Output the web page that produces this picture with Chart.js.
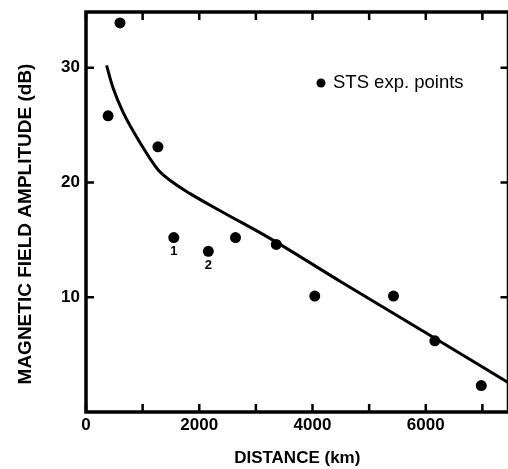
<!DOCTYPE html>
<html>
<head>
<meta charset="utf-8">
<script src="https://cdn.jsdelivr.net/npm/chart.js@4/dist/chart.umd.min.js"></script>
<style>
  html, body { margin: 0; padding: 0; background: #fff; }
  #wrap { width: 508px; height: 469px; overflow: hidden; position: relative; }
  canvas { display: block; }
</style>
</head>
<body>
<div id="wrap"><canvas id="chart" width="514" height="469"></canvas></div>
<script>
// STS experimental points (distance in km, amplitude in dB)
let distance  = [390, 600, 1270, 1550, 2160, 2640, 3360, 4040, 5430, 6160, 6980];
let amplitude = [25.8, 33.9, 23.1, 15.2, 14.0, 15.2, 14.6, 10.1, 10.1, 6.2, 2.3];
let pointNotes = ["", "", "", "1", "2", "", "", "", "", "", ""];

// theoretical curve
let curveDistance  = [363, 480, 656, 950, 1272, 1550, 1830, 2400, 3240, 4500, 6000, 7460];
let curveAmplitude = [30.2, 28.2, 26.1, 23.5, 21.1, 19.95, 19.05, 17.45, 15.15, 11.35, 6.9, 2.55];

// axis ticks
let xTicks = [0, 1000, 2000, 3000, 4000, 5000, 6000, 7000];
let xLabelled = [0, 2000, 4000, 6000];
let yTicks = [10, 20, 30];

let font = "'Liberation Sans', Arial, Helvetica, sans-serif";

function toXY(xs, ys) {
  return xs.map((x, i) => ({x: x, y: ys[i]}));
}

// --- frame, inward ticks, notes, legend, y title ---
let decor = {
  id: "decor",
  beforeDatasetsDraw(chart) {
    let {ctx, chartArea: a, scales} = chart;
    ctx.save();
    ctx.strokeStyle = "#000";
    ctx.lineWidth = 3.5;
    ctx.lineCap = "square";
    ctx.beginPath();
    ctx.moveTo(a.left, a.top); ctx.lineTo(a.right, a.top);
    ctx.lineTo(a.right, a.bottom); ctx.lineTo(a.left, a.bottom);
    ctx.closePath();
    ctx.stroke();

    ctx.lineWidth = 2.5;
    ctx.lineCap = "butt";
    ctx.beginPath();
    xTicks.forEach(v => {
      let px = scales.x.getPixelForValue(v);
      ctx.moveTo(px, a.bottom); ctx.lineTo(px, a.bottom - 8);
      ctx.moveTo(px, a.top); ctx.lineTo(px, a.top + 8);
    });
    yTicks.forEach(v => {
      let py = scales.y.getPixelForValue(v);
      ctx.moveTo(a.left, py); ctx.lineTo(a.left + 8, py);
      ctx.moveTo(a.right, py); ctx.lineTo(a.right - 8, py);
    });
    ctx.stroke();
    ctx.restore();
  },
  afterDatasetsDraw(chart) {
    let {ctx, chartArea: a} = chart;
    ctx.save();
    ctx.fillStyle = "#000";

    // numbers under points 1 and 2
    let meta = chart.getDatasetMeta(0);
    ctx.font = "bold 13px " + font;
    ctx.textAlign = "center";
    ctx.textBaseline = "middle";
    meta.data.forEach((pt, i) => {
      if (pointNotes[i]) ctx.fillText(pointNotes[i], pt.x, pt.y + 14);
    });

    // legend
    let lx = a.left + 235, ly = a.top + 71;
    ctx.beginPath();
    ctx.arc(lx, ly, 4.5, 0, Math.PI * 2);
    ctx.fill();
    ctx.font = "18.5px " + font;
    ctx.textAlign = "left";
    ctx.fillText(chart.data.datasets[0].label, lx + 12, ly);

    // y title
    ctx.translate(26, 224);
    ctx.rotate(-Math.PI / 2);
    ctx.font = "bold 19px " + font;
    ctx.textAlign = "center";
    ctx.fillText("MAGNETIC FIELD AMPLITUDE (dB)", 0, 0);
    ctx.restore();
  }
};

new Chart(document.getElementById("chart"), {
  type: "scatter",
  data: {
    datasets: [
      {
        label: "STS exp. points",
        data: toXY(distance, amplitude),
        backgroundColor: "#000",
        borderColor: "#000",
        pointRadius: 5.5,
        pointBorderWidth: 0,
        showLine: false
      },
      {
        label: "curve",
        data: toXY(curveDistance, curveAmplitude),
        borderColor: "#000",
        borderWidth: 3,
        pointRadius: 0,
        showLine: true,
        fill: false,
        cubicInterpolationMode: "monotone"
      }
    ]
  },
  options: {
    responsive: false,
    animation: false,
    layout: { padding: { left: 0, top: 12, right: 4, bottom: 0 } },
    plugins: {
      legend: { display: false },
      tooltip: { enabled: false }
    },
    scales: {
      x: {
        type: "linear",
        min: 0,
        max: 7461,
        border: { display: false },
        grid: { display: false, drawTicks: false },
        afterFit: s => { s.height = 57; s.paddingLeft = 0; s.paddingRight = 0; },
        afterBuildTicks: s => { s.ticks = xTicks.map(v => ({value: v})); },
        ticks: {
          autoSkip: false,
          maxRotation: 0,
          padding: 3,
          color: "#000",
          font: { family: font, size: 17, weight: "bold" },
          callback: v => xLabelled.includes(v) ? String(v) : ""
        },
        title: {
          display: true,
          text: "DISTANCE (km)",
          color: "#000",
          padding: { top: 0, bottom: 0 },
          font: { family: font, size: 17, weight: "bold" }
        }
      },
      y: {
        type: "linear",
        min: 0,
        max: 34.85,
        border: { display: false },
        grid: { display: false, drawTicks: false },
        afterFit: s => { s.width = 86; s.paddingTop = 0; s.paddingBottom = 0; },
        afterBuildTicks: s => { s.ticks = yTicks.map(v => ({value: v})); },
        ticks: {
          padding: 6,
          color: "#000",
          font: { family: font, size: 17, weight: "bold" }
        }
      }
    }
  },
  plugins: [decor]
});
</script>
</body>
</html>
